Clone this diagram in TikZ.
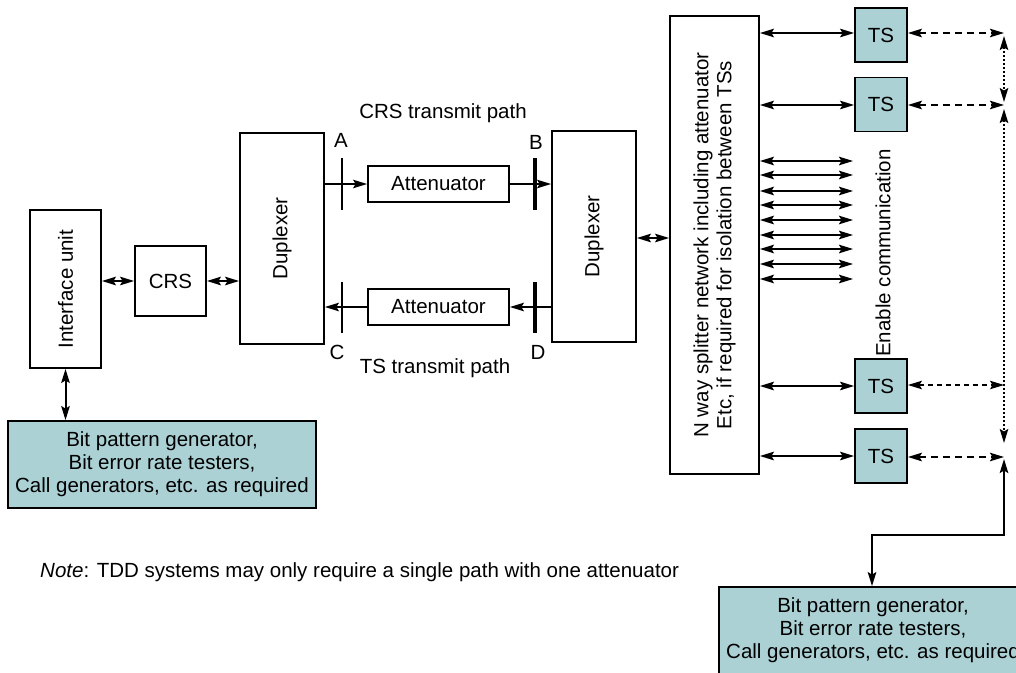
\documentclass[tikz,border=0pt]{standalone}
\usepackage{fontspec}
\setmainfont{Liberation Sans}
\usetikzlibrary{arrows.meta,calc}
\definecolor{tealbox}{RGB}{171,209,212}
\begin{document}
\begin{tikzpicture}[x=1pt,y=-1pt,
  font=\fontsize{20.5}{23}\selectfont,
  blk/.style={draw, line width=1.8pt, inner sep=0pt, align=center},
  grn/.style={blk, fill=tealbox},
  tip/.tip={Stealth[length=14pt,width=8.5pt,inset=2.5pt]},
  one/.style={line width=1.6pt, -tip},
  two/.style={line width=2pt, tip-tip},
  dsh/.style={line width=2pt, tip-tip, dash pattern=on 7pt off 5pt},
  dot/.style={line width=1.6pt, tip-tip, dash pattern=on 2.5pt off 1.5pt},
  bar/.style={line width=2.2pt},
  tbar/.style={line width=3.2pt}]
\useasboundingbox (0,0) rectangle (1016,672);
\clip (0,0) rectangle (1016,672);
% blocks
\node[blk, minimum width=71pt, minimum height=158pt] (iu) at (65.5,289) {};
\node[rotate=90] at (iu.center) {Interface unit};
\node[blk, minimum width=71pt, minimum height=70pt] (crs) at (170.5,281) {CRS};
\node[blk, minimum width=84pt, minimum height=211pt] (dupL) at (282,238.5) {};
\node[rotate=90] at (dupL.center) {Duplexer};
\node[blk, minimum width=84pt, minimum height=211pt] (dupR) at (594,236.5) {};
\node[rotate=90] at (dupR.center) {Duplexer};
\node[blk, minimum width=141pt, minimum height=36pt] (attT) at (438.5,184) {Attenuator};
\node[blk, minimum width=141pt, minimum height=36pt] (attB) at (438.5,307) {Attenuator};
\node[blk, minimum width=89pt, minimum height=458pt] (spl) at (714.5,245) {};
\node[rotate=90, align=center] at (spl.center) {N way splitter network including attenuator\\Etc, if required for isolation between TSs};
\node[grn, minimum width=52pt, minimum height=54pt] (ts1) at (881,35) {TS};
\node[grn, minimum width=52pt, minimum height=54pt] (ts2) at (881,104.5) {TS};
\node[grn, minimum width=52pt, minimum height=54pt] (ts3) at (881,386) {TS};
\node[grn, minimum width=52pt, minimum height=54pt] (ts4) at (881,456) {TS};
\node[grn, minimum width=308pt, minimum height=87pt] (bpL) at (162,464.5) {Bit pattern generator,\\Bit error rate testers,\\Call generators, etc. as required};
\node[grn, minimum width=308pt, minimum height=87pt] (bpR) at (873,630.5) {Bit pattern generator,\\Bit error rate testers,\\Call generators, etc. as required};
% labels
\node (lcrs) at (443,113) {CRS transmit path};
\node (lts) at (435,368) {TS transmit path};
\node (la) at (341,140) {A};
\node (lb) at (536,142) {B};
\node (lc) at (337,352) {C};
\node (ld) at (538,352) {D};
\node[rotate=90] (lec) at (883,253) {Enable communication};
\node[anchor=west, inner sep=0pt] (note) at (40,572) {\textit{Note}: TDD systems may only require a single path with one attenuator};
% connectors left
\draw[two] (iu.east |- crs.west) -- (crs.west);
\draw[two] (crs.east) -- (crs.east -| dupL.west);
\draw[two] (iu.south) -- (iu.south |- bpL.north);
\draw[one] (attT.west -| dupL.east) -- (attT.west);
\draw[one] (attT.east) -- (attT.east -| dupR.west);
\draw[one] (attB.east -| dupR.west) -- (attB.east);
\draw[one] (attB.west) -- (attB.west -| dupL.east);
\draw[two] (dupR.east |- 0,238) -- (spl.west |- 0,238);
% bars
\coordinate (a1) at (342,158); \coordinate (a2) at (342,210);
\coordinate (b1) at (535,158); \coordinate (b2) at (535,210);
\coordinate (c1) at (342,282); \coordinate (c2) at (342,333);
\coordinate (d1) at (535,282); \coordinate (d2) at (535,333);
\draw[bar] (a1) -- (a2);
\draw[tbar] (b1) -- (b2);
\draw[bar] (c1) -- (c2);
\draw[tbar] (d1) -- (d2);
% splitter to TS
\draw[two] (spl.east |- 0,33) -- (ts1.west |- 0,33);
\draw[two] (spl.east |- 0,105) -- (ts2.west |- 0,105);
\draw[two] (spl.east |- ts3.west) -- (ts3.west);
\draw[two] (spl.east |- ts4.west) -- (ts4.west);
\foreach \y in {161,175,191,205,220,235,249,264,279}
  \draw[two] (spl.east |- 0,\y) -- (853,\y);
% right side
\coordinate (r1) at (1004,33);
\coordinate (r2) at (1004,105);
\coordinate (r3) at (1004,385);
\coordinate (r4) at (1004,457);
\draw[dsh] (ts1.east |- r1) -- (r1);
\draw[dsh] (ts2.east |- r2) -- (r2);
\draw[dsh, line width=1.3pt, dash pattern=on 5pt off 4pt] (ts3.east |- r3) -- (r3);
\draw[dsh] (ts4.east |- r4) -- (r4);
\draw[dot] ($(r1)+(0,3)$) -- ($(r2)+(0,-3)$);
\draw[dot] ($(r2)+(0,4)$) -- ($(r4)+(0,-14)$);
\coordinate (k1) at (1004,535);
\coordinate (k2) at (872,535);
\draw[line width=2pt, tip-tip] ($(r4)+(0,2)$) -- (k1) -- (k2) -- (k2 |- bpR.north);
\end{tikzpicture}
\end{document}
